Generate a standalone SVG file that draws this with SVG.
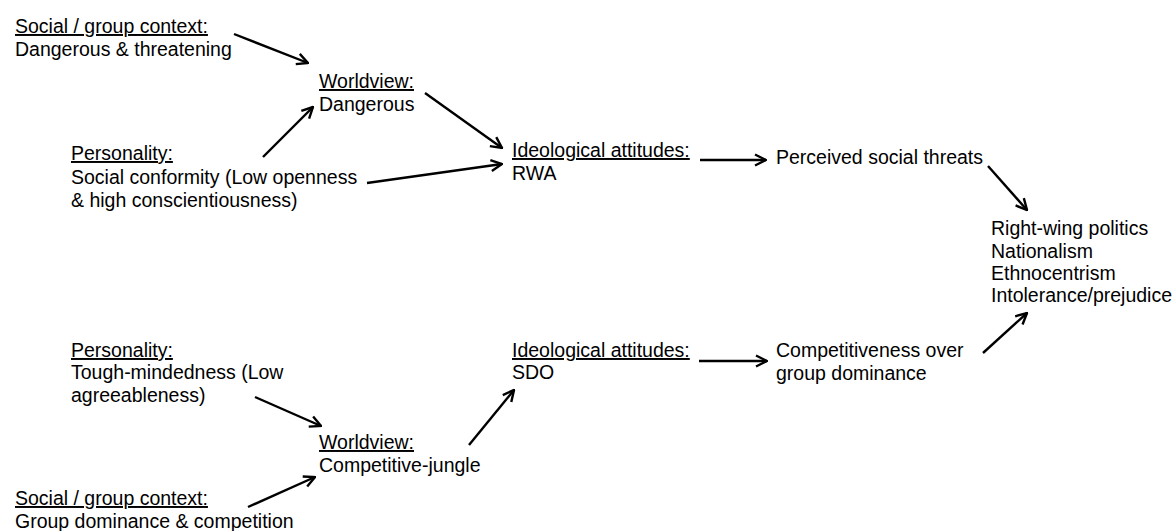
<svg xmlns="http://www.w3.org/2000/svg" width="1173" height="531" viewBox="0 0 1173 531">
<style>
text{font-family:"Liberation Sans",Arial,sans-serif;font-size:19.5px;fill:#000}
.u{text-decoration:underline}
.c{stroke:#000;stroke-width:2.4;fill:none;marker-end:url(#ah)}
</style>
<defs>
<marker id="ah" viewBox="0 0 13 14" refX="12" refY="7" markerWidth="13" markerHeight="14" markerUnits="userSpaceOnUse" orient="auto">
<path d="M1,1.5 L12,7 L1,12.5" fill="none" stroke="#000" stroke-width="2.4" stroke-linejoin="miter"/>
</marker>
</defs>
<rect width="1173" height="531" fill="#fff"/>
<g id="ctx-danger"><text x="15" y="33"><tspan class="u">Social / group context:</tspan></text><text x="15" y="56">Dangerous &amp; threatening</text></g>
<g id="wv-danger"><text x="319" y="88"><tspan class="u">Worldview:</tspan></text><text x="319" y="111">Dangerous</text></g>
<g id="pers-conf"><text x="71" y="160"><tspan class="u">Personality:</tspan></text><text x="71" y="184">Social conformity (Low openness</text><text x="71" y="207">&amp; high conscientiousness)</text></g>
<g id="rwa"><text x="512" y="157"><tspan class="u">Ideological attitudes:</tspan></text><text x="512" y="180">RWA</text></g>
<g id="threats"><text x="776" y="164">Perceived social threats</text></g>
<g id="outcomes"><text x="991" y="235">Right-wing politics</text><text x="991" y="258">Nationalism</text><text x="991" y="280">Ethnocentrism</text><text x="991" y="302">Intolerance/prejudice</text></g>
<g id="competitiveness"><text x="776" y="357">Competitiveness over</text><text x="776" y="380">group dominance</text></g>
<g id="sdo"><text x="512" y="357"><tspan class="u">Ideological attitudes:</tspan></text><text x="512" y="379">SDO</text></g>
<g id="pers-tough"><text x="71" y="357"><tspan class="u">Personality:</tspan></text><text x="71" y="379">Tough-mindedness (Low</text><text x="71" y="402">agreeableness)</text></g>
<g id="wv-jungle"><text x="319" y="449"><tspan class="u">Worldview:</tspan></text><text x="319" y="472">Competitive-jungle</text></g>
<g id="ctx-dominance"><text x="15" y="505"><tspan class="u">Social / group context:</tspan></text><text x="15" y="528">Group dominance &amp; competition</text></g>
<g id="connectors">
<line class="c" x1="234" y1="34" x2="308" y2="63"/>
<line class="c" x1="263" y1="157" x2="313" y2="107"/>
<line class="c" x1="367" y1="183" x2="502" y2="164"/>
<line class="c" x1="425" y1="93" x2="502" y2="148"/>
<line class="c" x1="700" y1="160" x2="766" y2="160"/>
<line class="c" x1="988" y1="166" x2="1027" y2="210"/>
<line class="c" x1="983" y1="353" x2="1027" y2="313"/>
<line class="c" x1="699" y1="361" x2="767" y2="361"/>
<line class="c" x1="469" y1="445" x2="514" y2="390"/>
<line class="c" x1="255" y1="397" x2="321" y2="426"/>
<line class="c" x1="248" y1="507" x2="315" y2="477"/>
</g>
</svg>
